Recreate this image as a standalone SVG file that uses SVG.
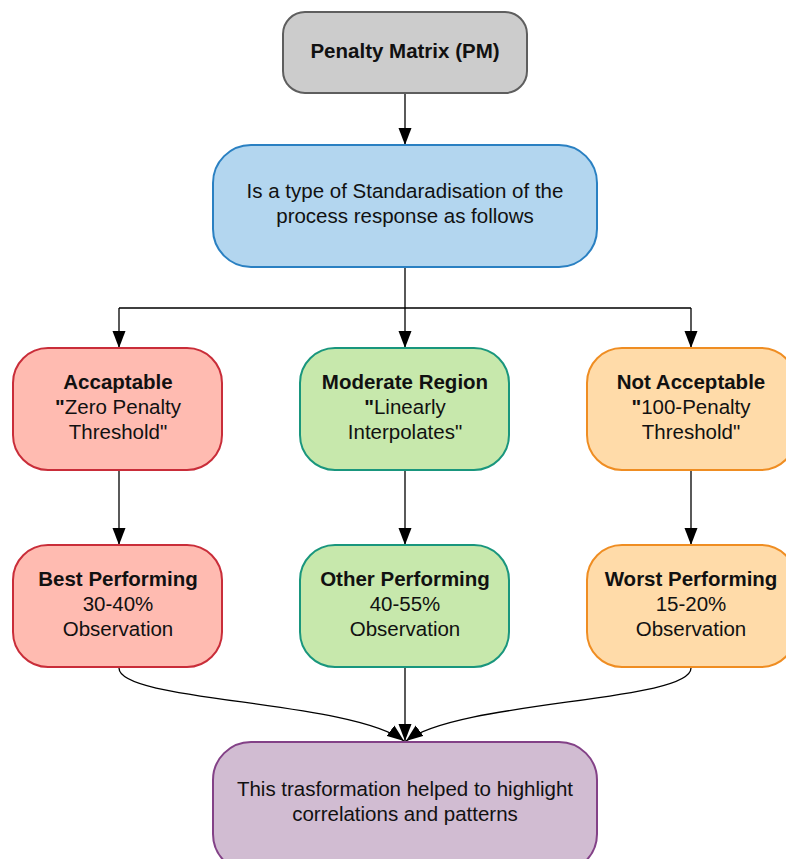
<svg xmlns="http://www.w3.org/2000/svg" width="786" height="859" viewBox="0 0 786 859">
  <defs>
    <marker id="arrow" viewBox="0 0 17 14" refX="17" refY="7" markerWidth="17" markerHeight="14" markerUnits="userSpaceOnUse" orient="auto">
      <path d="M0,0.5 L17,7 L0,13.5 Z" fill="#000"/>
    </marker>
    <style>
      .box { stroke-width: 2; }
      .t { font-family: "Liberation Sans", Arial, sans-serif; font-size: 20.5px; fill: #111; text-anchor: middle; }
      .b { font-weight: bold; }
      .edge { fill: none; stroke: #000; stroke-width: 1.3; marker-end: url(#arrow); }
      .red { fill: #ffbbb1; stroke: #c92d39; }
      .green { fill: #c7e8ac; stroke: #19967d; }
      .orange { fill: #ffdba9; stroke: #ef8d22; }
    </style>
  </defs>
  <rect width="786" height="859" fill="#fff"/>

  <g id="connectors">
    <path class="edge" d="M405,94 V145"/>
    <path d="M405,268 V308 M119,308 H691" fill="none" stroke="#000" stroke-width="1.3"/>
    <path class="edge" d="M119,308 V348"/>
    <path class="edge" d="M405,308 V348"/>
    <path class="edge" d="M691,308 V348"/>
    <path class="edge" d="M119,471 V545"/>
    <path class="edge" d="M405,471 V545"/>
    <path class="edge" d="M691,471 V545"/>
    <path class="edge" d="M119,668 C119,702 350,700 404,741"/>
    <path class="edge" d="M405,668 V741"/>
    <path class="edge" d="M691,668 C691,702 460,700 406,741"/>
  </g>

  <g id="penalty-matrix">
    <rect class="box" x="283" y="12" width="244" height="81" rx="22" fill="#cccccc" stroke="#5e5e5e"/>
    <text class="t b" x="405" y="58">Penalty Matrix (PM)</text>
  </g>

  <g id="standardisation">
    <rect class="box" x="213" y="145" width="384" height="122" rx="38" fill="#b3d6ef" stroke="#2a80c2"/>
    <text class="t" x="405" y="198">Is a type of Standaradisation of the</text>
    <text class="t" x="405" y="223">process response as follows</text>
  </g>

  <g id="acceptable">
    <rect class="box red" x="13" y="348" width="209" height="122" rx="35"/>
    <text class="t b" x="118" y="389">Accaptable</text>
    <text class="t" x="118" y="414"><tspan class="b">"</tspan>Zero Penalty</text>
    <text class="t" x="118" y="439">Threshold"</text>
  </g>

  <g id="moderate-region">
    <rect class="box green" x="300" y="348" width="209" height="122" rx="35"/>
    <text class="t b" x="405" y="389">Moderate Region</text>
    <text class="t" x="405" y="414"><tspan class="b">"</tspan>Linearly</text>
    <text class="t" x="405" y="439">Interpolates"</text>
  </g>

  <g id="not-acceptable">
    <rect class="box orange" x="587" y="348" width="209" height="122" rx="35"/>
    <text class="t b" x="691" y="389">Not Acceptable</text>
    <text class="t" x="691" y="414"><tspan class="b">"</tspan>100-Penalty</text>
    <text class="t" x="691" y="439">Threshold"</text>
  </g>

  <g id="best-performing">
    <rect class="box red" x="13" y="545" width="209" height="122" rx="35"/>
    <text class="t b" x="118" y="586">Best Performing</text>
    <text class="t" x="118" y="611">30-40%</text>
    <text class="t" x="118" y="636">Observation</text>
  </g>

  <g id="other-performing">
    <rect class="box green" x="300" y="545" width="209" height="122" rx="35"/>
    <text class="t b" x="405" y="586">Other Performing</text>
    <text class="t" x="405" y="611">40-55%</text>
    <text class="t" x="405" y="636">Observation</text>
  </g>

  <g id="worst-performing">
    <rect class="box orange" x="587" y="545" width="209" height="122" rx="35"/>
    <text class="t b" x="691" y="586">Worst Performing</text>
    <text class="t" x="691" y="611">15-20%</text>
    <text class="t" x="691" y="636">Observation</text>
  </g>

  <g id="transformation">
    <rect class="box" x="213" y="742" width="384" height="130" rx="38" fill="#d1bcd2" stroke="#834187"/>
    <text class="t" x="405" y="796">This trasformation helped to highlight</text>
    <text class="t" x="405" y="821">correlations and patterns</text>
  </g>
</svg>
